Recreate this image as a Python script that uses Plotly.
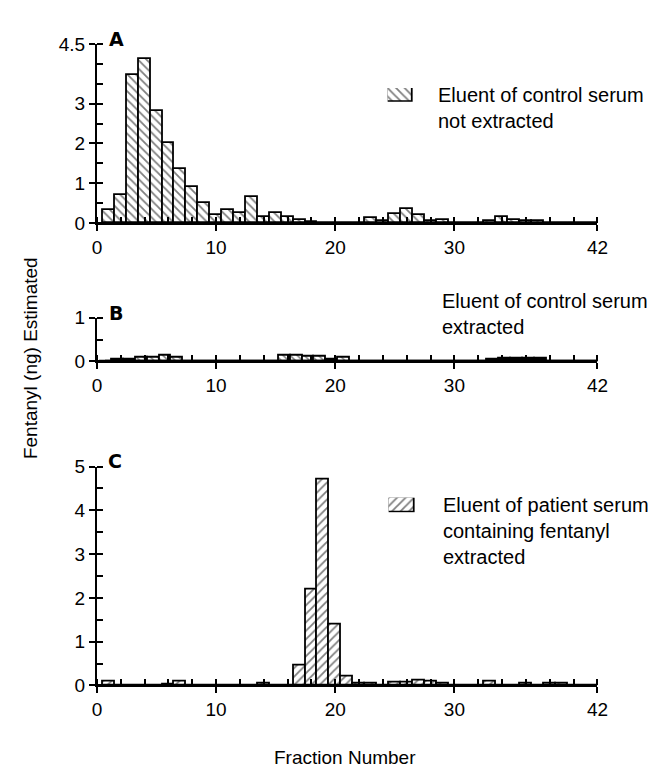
import plotly.graph_objects as go

# ---------------- data ----------------
fractions = list(range(1, 43))

# Panel A: eluent of control serum, not extracted
a_values = [0.32, 0.70, 3.72, 4.12, 2.81, 2.00, 1.37, 0.90, 0.51, 0.20,
            0.32, 0.26, 0.65, 0.16, 0.26, 0.15, 0.08, 0.03, 0, 0,
            0, 0, 0.13, 0.05, 0.23, 0.36, 0.21, 0.05, 0.08, 0,
            0, 0, 0.06, 0.16, 0.08, 0.05, 0.05, 0, 0, 0,
            0, 0]

# Panel B: eluent of control serum, extracted
b_hatched = [0, 0.04, 0.04, 0.08, 0.08, 0.14, 0.09, 0, 0, 0,
             0, 0, 0, 0, 0, 0.14, 0.14, 0.10, 0.10, 0.05,
             0.08, 0, 0, 0, 0, 0, 0, 0, 0, 0,
             0, 0, 0, 0, 0, 0, 0, 0, 0, 0,
             0, 0]
b_solid = [0, 0, 0, 0, 0, 0, 0, 0, 0, 0,
           0, 0, 0, 0, 0, 0, 0, 0, 0, 0,
           0, 0, 0, 0, 0, 0, 0, 0, 0, 0,
           0, 0, 0.05, 0.07, 0.07, 0.07, 0.06, 0, 0, 0,
           0, 0]

# Panel C: eluent of patient serum containing fentanyl, extracted
c_values = [0.10, 0, 0, 0, 0, 0.03, 0.10, 0, 0, 0,
            0, 0, 0, 0.05, 0, 0, 0.45, 2.20, 4.70, 1.38,
            0.20, 0.05, 0.04, 0, 0.06, 0.06, 0.12, 0.10, 0.04, 0,
            0, 0, 0.10, 0, 0, 0.05, 0, 0.04, 0.04, 0,
            0, 0]

x_tickvals = [0, 10, 20, 30, 42]
a_tickvals = [0, 1, 2, 3, 4.5]
b_tickvals = [0, 1]
c_tickvals = [0, 1, 2, 3, 4, 5]
legend_key = [1]

# ---------------- layout helpers ----------------
W, H = 658, 776
FONT = "Liberation Sans"


def px(p):
    return p / W


def py(p):
    return 1 - p / H


x_dom = [px(86), px(599)]
a_dom = [py(210.7), py(26.7)]
b_dom = [py(353), py(308)]
c_dom = [py(686), py(461)]

fig = go.Figure()


def bar(x, y, shape, xa, ya, solid=False, size=6):
    pat = dict(shape=shape, fgcolor="black", bgcolor="white", size=size, solidity=0.3)
    if solid:
        pat = dict(shape="", fgcolor="black", bgcolor="black")
    return go.Bar(x=x, y=y, width=1, xaxis=xa, yaxis=ya, showlegend=False,
                  marker=dict(color="black" if solid else "white",
                              line=dict(color="black", width=1.8),
                              pattern=pat),
                  hoverinfo="skip")


fig.add_trace(bar(fractions, a_values, "\\", "x", "y"))
fig.add_trace(bar(fractions, b_hatched, "\\", "x2", "y2", size=5))
fig.add_trace(bar(fractions, b_solid, "", "x2", "y2", solid=True))
fig.add_trace(bar(fractions, c_values, "/", "x3", "y3", size=6))

# legend keys
fig.add_trace(bar([0], legend_key, "\\", "x7", "y7", size=6))
fig.add_trace(bar([0], legend_key, "/", "x8", "y8", size=6))

# dummy traces so overlay (crossing-tick) axes render
for xa, ya in [("x4", "y"), ("x5", "y2"), ("x6", "y3"),
               ("x", "y4"), ("x2", "y5"), ("x3", "y6")]:
    fig.add_trace(go.Scatter(x=[None], y=[None], xaxis=xa, yaxis=ya,
                             showlegend=False, hoverinfo="skip"))

tickfont = dict(family=FONT, size=19, color="black")
common_x = dict(range=[0, 42], showgrid=False, zeroline=False, showline=True,
                linecolor="black", linewidth=2, ticks="outside", ticklen=6,
                tickwidth=2, tickcolor="black", tickmode="array",
                tickvals=x_tickvals, tickfont=tickfont,
                minor=dict(tick0=0, dtick=2, ticks="inside", ticklen=6,
                           tickwidth=1.5, tickcolor="black"),
                fixedrange=True)
common_y = dict(showgrid=False, zeroline=False, showline=True,
                linecolor="black", linewidth=2, ticks="outside", ticklen=6,
                tickwidth=2, tickcolor="black", tickmode="array",
                tickfont=tickfont, fixedrange=True,
                minor=dict(tick0=0, dtick=0.5, ticks="inside", ticklen=6,
                           tickwidth=1.5, tickcolor="black"))

fig.update_layout(
    xaxis=dict(domain=x_dom, anchor="y", **common_x),
    xaxis2=dict(domain=x_dom, anchor="y2", **common_x),
    xaxis3=dict(domain=x_dom, anchor="y3", **common_x),
    yaxis=dict(domain=a_dom, anchor="x", range=[0, 4.5], tickvals=a_tickvals,
               ticktext=["0", "1", "2", "3", "4.5"], **common_y),
    yaxis2=dict(domain=b_dom, anchor="x2", range=[0, 1], tickvals=b_tickvals, **common_y),
    yaxis3=dict(domain=c_dom, anchor="x3", range=[0, 5], tickvals=c_tickvals, **common_y),
)

# overlay axes giving the major ticks their inner half
for n, base, anc in [(4, "x", "y"), (5, "x2", "y2"), (6, "x3", "y3")]:
    fig.layout["xaxis%d" % n] = dict(overlaying=base, anchor=anc, range=[0, 42],
                                     showline=False, showgrid=False, zeroline=False,
                                     ticks="inside", ticklen=6, tickwidth=2,
                                     tickcolor="black", tickmode="array",
                                     tickvals=x_tickvals, showticklabels=False,
                                     fixedrange=True)
for n, base, anc, rng, tv in [(4, "y", "x", [0, 4.5], a_tickvals),
                              (5, "y2", "x2", [0, 1], b_tickvals),
                              (6, "y3", "x3", [0, 5], c_tickvals)]:
    fig.layout["yaxis%d" % n] = dict(overlaying=base, anchor=anc, range=rng,
                                     side="left", showline=False, showgrid=False,
                                     zeroline=False, ticks="inside", ticklen=6,
                                     tickwidth=2, tickcolor="black",
                                     tickmode="array", tickvals=tv,
                                     showticklabels=False, fixedrange=True)

# legend key mini-axes
hidden = dict(visible=False, fixedrange=True)
fig.layout["xaxis7"] = dict(domain=[px(384), px(410)], anchor="y7", range=[-0.5, 0.5], **hidden)
fig.layout["yaxis7"] = dict(domain=[py(86), py(72)], anchor="x7", range=[0, 1], **hidden)
fig.layout["xaxis8"] = dict(domain=[px(385), px(412)], anchor="y8", range=[-0.5, 0.5], **hidden)
fig.layout["yaxis8"] = dict(domain=[py(508), py(493)], anchor="x8", range=[0, 1], **hidden)

txt = dict(family=FONT, size=20, color="black")
lab = dict(family="DejaVu Sans", size=19, color="black")
annotations = [
    dict(text="<b>A</b>", x=px(96), y=py(22), xanchor="left", yanchor="middle", font=lab),
    dict(text="<b>B</b>", x=px(96), y=py(303), xanchor="left", yanchor="middle", font=lab),
    dict(text="<b>C</b>", x=px(95), y=py(455), xanchor="left", yanchor="middle", font=lab),
    dict(text="Eluent of control serum<br>not extracted", x=px(434), y=py(66),
         xanchor="left", yanchor="top", align="left", font=txt),
    dict(text="Eluent of control serum<br>extracted", x=px(438), y=py(278),
         xanchor="left", yanchor="top", align="left", font=txt),
    dict(text="Eluent of patient serum<br>containing fentanyl<br>extracted",
         x=px(439), y=py(487), xanchor="left", yanchor="top", align="left", font=txt),
    dict(text="Fentanyl (ng) Estimated", x=px(18), y=py(350), textangle=-90,
         xanchor="center", yanchor="middle", font=dict(family=FONT, size=19, color="black")),
    dict(text="Fraction Number", x=px(340), y=py(760), xanchor="center",
         yanchor="middle", font=dict(family=FONT, size=19, color="black")),
]
for a in annotations:
    a.update(xref="paper", yref="paper", showarrow=False)

fig.update_layout(
    width=W, height=H, margin=dict(l=0, r=0, t=0, b=0),
    paper_bgcolor="white", plot_bgcolor="white",
    bargap=0, showlegend=False, annotations=annotations,
    font=dict(family=FONT, color="black"),
)

fig.write_html("out.html")
